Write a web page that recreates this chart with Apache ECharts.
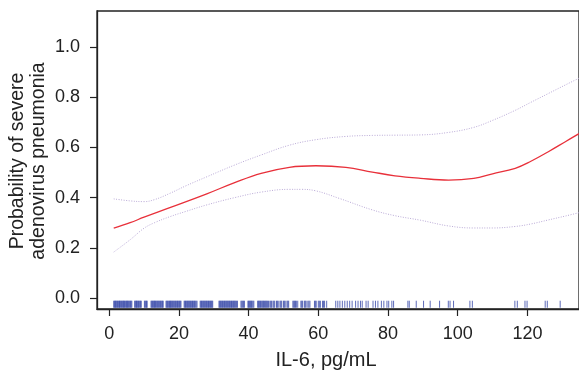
<!DOCTYPE html>
<html><head><meta charset="utf-8">
<script src="https://cdn.jsdelivr.net/npm/echarts@6/dist/echarts.min.js"></script>
<style>html,body{margin:0;padding:0;background:#fff}#c{width:579px;height:371px}</style>
</head><body><div id="c"></div>
<script>
const xTicks = [0, 20, 40, 60, 80, 100, 120];
const yTicks = [0, 0.2, 0.4, 0.6, 0.8, 1.0];

const fitX = [1.3, 6, 10, 17.4, 28, 36, 43.6, 51.7, 59.3, 67.9, 75.5, 82, 89.3, 97.4, 104.6, 110, 116.5, 121, 126, 131, 134.8];
const fitY = [0.278, 0.300, 0.322, 0.360, 0.415, 0.460, 0.497, 0.521, 0.527, 0.521, 0.502, 0.487, 0.477, 0.470, 0.477, 0.495, 0.517, 0.545, 0.583, 0.624, 0.655];

const upperX = [1.3, 6, 10, 13, 17.4, 22, 28, 36, 43.6, 51.7, 59.3, 67.9, 75.5, 82, 89.3, 97.4, 104.6, 110, 116.5, 121, 126, 131, 134.8];
const upperY = [0.395, 0.387, 0.384, 0.392, 0.417, 0.447, 0.483, 0.530, 0.570, 0.609, 0.631, 0.644, 0.648, 0.649, 0.650, 0.660, 0.680, 0.708, 0.748, 0.780, 0.815, 0.850, 0.876];

const lowerX = [1.3, 6, 10, 13, 17.4, 22, 28, 36, 43.6, 51.7, 55, 59.3, 66, 75.5, 82, 89.3, 97.4, 104.6, 110, 116.5, 121, 126, 131, 134.8];
const lowerY = [0.183, 0.232, 0.278, 0.300, 0.324, 0.345, 0.371, 0.400, 0.422, 0.433, 0.433, 0.427, 0.397, 0.351, 0.328, 0.310, 0.287, 0.279, 0.279, 0.285, 0.295, 0.311, 0.327, 0.340];

const rugX = [1.3,1.7,2.0,2.4,2.8,3.1,3.5,3.9,4.2,4.6,5.0,5.3,5.7,6.1,6.5,7.3,7.7,8.0,8.4,8.8,9.2,10.1,10.5,10.9,
  12.0,12.4,12.8,13.1,13.5,13.9,14.3,14.7,15.1,15.5,16.3,16.7,17.1,17.5,17.8,18.2,18.6,19.0,19.4,19.8,20.2,20.6,
  21.5,21.9,22.3,22.7,23.1,23.5,23.9,24.3,24.7,25.2,26.1,26.5,26.9,27.3,27.7,28.1,28.5,28.9,29.3,29.7,
  31.5,31.9,32.3,32.7,33.1,33.5,33.9,34.3,34.7,35.1,35.5,35.9,36.3,36.8,37.8,38.3,38.8,39.8,40.2,40.6,41.0,41.5,
  42.6,43.0,43.4,43.9,44.3,44.8,45.2,45.7,46.1,46.6,47.0,47.5,48.0,48.5,49.0,49.5,50.0,50.5,51.0,51.5,
  52.7,53.2,53.7,54.1,55.0,55.5,56.0,56.5,57.0,57.6,58.9,59.4,60.0,60.6,61.2,61.8,62.4,
  65.0,65.6,66.2,66.9,67.6,68.3,69.0,69.7,70.7,71.4,72.1,72.6,73.7,74.3,75.7,76.4,77.1,78.1,78.8,79.7,80.2,81.1,81.6,
  85.7,86.1,88.1,90.2,92.1,94.8,97.3,97.8,98.8,103.5,104.2,116.4,117.1,119.3,119.9,125.1,125.7,129.4];

const rugDenseExtra = [1.5,1.85,2.2,2.6,2.95,3.3,3.7,4.05,4.4,4.8,5.15,5.5,5.9,6.3,7.5,7.85,8.2,8.6,9.0,10.3,10.7,
  12.2,12.6,12.95,13.3,13.7,14.1,14.5,14.9,15.3,16.5,16.9,17.3,17.65,18.0,18.4,18.8,19.2,19.6,20.0,20.4,
  21.7,22.1,22.5,22.9,23.3,23.7,24.1,24.5,24.95,26.3,26.7,27.1,27.5,27.9,28.3,28.7,29.1,29.5,
  31.7,32.1,32.5,32.9,33.3,33.7,34.1,34.5,34.9,35.3,35.7,36.1,36.55,38.05,38.55,40.0,40.4,40.8,41.25,
  42.8,43.2,43.65,44.1,44.55,45.0,45.45,46.35,47.25,48.25,49.25,50.25,51.25,52.95,53.45,55.25,56.25,57.3,59.15,60.3,61.5];

const xName = 'IL-6, pg/mL';
const yName = 'Probability of severe\nadenovirus pneumonia';

const pairs = (xs, ys) => xs.map((x, i) => [x, ys[i]]);
const FONT = 'Liberation Sans, Arial, Helvetica, sans-serif';

const chart = echarts.init(document.getElementById('c'), null, {renderer: 'canvas'});
chart.setOption({
  animation: false,
  backgroundColor: '#fff',
  grid: {left: 97, top: 11, right: -2, bottom: 62, show: true, borderColor: '#222', borderWidth: 1.3, containLabel: false},
  xAxis: {
    type: 'value', min: -3.5, max: 134.8,
    axisLine: {show: true, onZero: false, lineStyle: {color: '#222', width: 1.3}},
    axisTick: {show: true, inside: false, customValues: xTicks, length: 7, lineStyle: {color: '#222', width: 1.2}},
    axisLabel: {customValues: xTicks, margin: 16, fontSize: 18, color: '#222', fontFamily: FONT},
    splitLine: {show: false}
  },
  yAxis: {
    type: 'value', min: -0.044, max: 1.144,
    axisLine: {show: true, onZero: false, lineStyle: {color: '#222', width: 1.3}},
    axisTick: {show: true, inside: false, customValues: yTicks, length: 7, lineStyle: {color: '#222', width: 1.2}},
    axisLabel: {customValues: yTicks, margin: 17, fontSize: 18, color: '#222', fontFamily: FONT,
      formatter: v => Number(v).toFixed(1)},
    splitLine: {show: false}
  },
  graphic: [
    {type: 'text', x: 326, y: 360, style: {text: xName, fontSize: 20, fill: '#222', fontFamily: FONT, align: 'center', verticalAlign: 'middle'}},
    {type: 'text', x: 28, y: 161, rotation: Math.PI / 2, style: {text: yName, fontSize: 19.5, lineHeight: 21, fill: '#222', fontFamily: FONT, align: 'center', verticalAlign: 'middle'}}
  ],
  series: [
    {type: 'custom', data: rugX.concat(rugDenseExtra).map(x => [x]), encode: {x: 0}, z: 1,
      renderItem: (params, api) => {
        const x = api.value(0);
        const p1 = api.coord([x, -0.011]);
        const p2 = api.coord([x, -0.039]);
        return {type: 'line', shape: {x1: p1[0], y1: p1[1], x2: p2[0], y2: p2[1]}, style: {stroke: '#3446a8', lineWidth: 1, opacity: 0.8}};
      }},
    {type: 'line', data: pairs(upperX, upperY), showSymbol: false, smooth: 0.4,
      lineStyle: {color: '#b9a9d6', width: 1, type: [1, 1.5]}},
    {type: 'line', data: pairs(lowerX, lowerY), showSymbol: false, smooth: 0.4,
      lineStyle: {color: '#b9a9d6', width: 1, type: [1, 1.5]}},
    {type: 'line', data: pairs(fitX, fitY), showSymbol: false, smooth: 0.4,
      lineStyle: {color: '#e8303a', width: 1.3}}
  ]
});
</script></body></html>
